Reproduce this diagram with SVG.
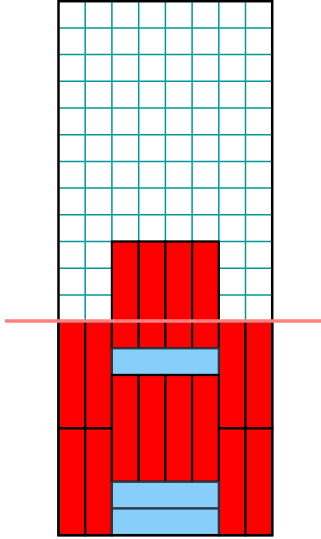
<svg xmlns="http://www.w3.org/2000/svg" width="321" height="539" viewBox="0 0 321 539">
<style>
.g{stroke:#009999;stroke-width:1.5;fill:none}
.r{fill:#ff0000;stroke:#000;stroke-width:2.2}
.b{fill:#87cefa;stroke:#2a3a44;stroke-width:2.2}
</style>
<rect width="321" height="539" fill="#fff"/>
<g id="grid" class="g">
<path d="M85.2 1.2V535.2M111.9 1.2V535.2M138.7 1.2V535.2M165.4 1.2V535.2M192.1 1.2V535.2M218.8 1.2V535.2M245.5 1.2V535.2"/>
<path d="M58.5 27.9H272.2M58.5 54.6H272.2M58.5 81.3H272.2M58.5 108H272.2M58.5 134.7H272.2M58.5 161.4H272.2M58.5 188.1H272.2M58.5 214.8H272.2M58.5 241.5H272.2M58.5 268.2H272.2M58.5 294.9H272.2M58.5 321.6H272.2M58.5 348.3H272.2M58.5 375H272.2M58.5 401.7H272.2M58.5 428.4H272.2M58.5 455.1H272.2M58.5 481.8H272.2M58.5 508.5H272.2"/>
</g>
<g id="left">
<rect class="r" x="58.5" y="321.6" width="26.7" height="106.8"/>
<rect class="r" x="85.2" y="321.6" width="26.7" height="106.8"/>
<rect class="r" x="58.5" y="428.4" width="26.7" height="106.8"/>
<rect class="r" x="85.2" y="428.4" width="26.7" height="106.8"/>
</g>
<g id="right">
<rect class="r" x="218.8" y="321.6" width="26.7" height="106.8"/>
<rect class="r" x="245.5" y="321.6" width="26.7" height="106.8"/>
<rect class="r" x="218.8" y="428.4" width="26.7" height="106.8"/>
<rect class="r" x="245.5" y="428.4" width="26.7" height="106.8"/>
</g>
<g id="middle-top">
<rect class="r" x="111.9" y="241.5" width="26.8" height="106.8"/>
<rect class="r" x="138.7" y="241.5" width="26.7" height="106.8"/>
<rect class="r" x="165.4" y="241.5" width="26.7" height="106.8"/>
<rect class="r" x="192.1" y="241.5" width="26.7" height="106.8"/>
</g>
<g id="middle-blue1">
<rect class="b" x="111.9" y="348.3" width="106.9" height="26.7"/>
</g>
<g id="middle-bottom">
<rect class="r" x="111.9" y="375" width="26.8" height="106.8"/>
<rect class="r" x="138.7" y="375" width="26.7" height="106.8"/>
<rect class="r" x="165.4" y="375" width="26.7" height="106.8"/>
<rect class="r" x="192.1" y="375" width="26.7" height="106.8"/>
</g>
<g id="middle-blue2">
<rect class="b" x="111.9" y="481.8" width="106.9" height="26.7"/>
<rect class="b" x="111.9" y="508.5" width="106.9" height="26.7"/>
</g>
<g id="border">
<rect x="58.5" y="1.2" width="213.7" height="534" fill="none" stroke="#000" stroke-width="2.5"/>
</g>
<g id="cut-line">
<line x1="5" y1="321" x2="321" y2="321" stroke="#ff8080" stroke-width="3.5"/>
</g>
</svg>
